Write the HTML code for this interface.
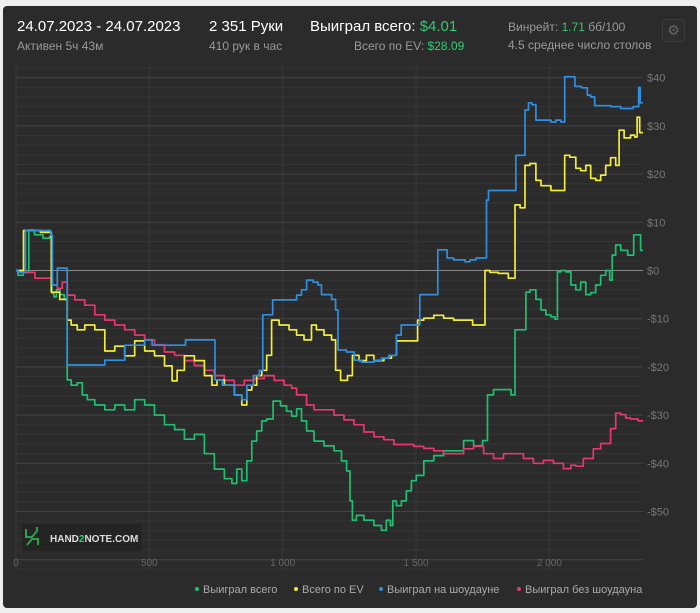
<!DOCTYPE html>
<html><head><meta charset="utf-8"><style>
body{margin:0;background:#efefef;font-family:"Liberation Sans",sans-serif;}
#panel{position:absolute;left:3px;top:6px;width:694px;height:602px;background:#2b2b2b;border-radius:4px;}
.t{position:absolute;white-space:nowrap;}
</style></head><body>
<div id="panel"></div>
<div class="t" style="left:17px;top:18px;font-size:15px;color:#fff;">24.07.2023 - 24.07.2023</div>
<div class="t" style="left:17px;top:39px;font-size:12px;color:#999;">Активен 5ч 43м</div>
<div class="t" style="left:209px;top:18px;font-size:15px;color:#fff;">2 351 Руки</div>
<div class="t" style="left:209px;top:39px;font-size:12px;color:#999;">410 рук в час</div>
<div class="t" style="left:310px;top:18px;font-size:15px;color:#fff;">Выиграл всего: <span style="color:#2ecc71">$4.01</span></div>
<div class="t" style="left:354px;top:39px;font-size:12px;color:#999;">Всего по EV: <span style="color:#2ecc71">$28.09</span></div>
<div class="t" style="left:508px;top:20px;font-size:12px;color:#999;">Винрейт: <span style="color:#2ecc71">1.71</span> бб/100</div>
<div class="t" style="left:508px;top:38px;font-size:12px;color:#999;">4.5 среднее число столов</div>
<div style="position:absolute;left:662px;top:19px;width:21px;height:21px;border:1px solid #3a3a3a;border-radius:3px;background:#2e2e2e;color:#666;font-size:14px;text-align:center;line-height:21px;">⚙</div>
<svg id="chart" width="700" height="613" style="position:absolute;left:0;top:0"></svg>
<script>
const gH=[0,15,40,56,82,120,131,138,146,157,172,190,194,220,239,258,277,314,352,389,426,464,501,538,576,613,650,688,725,763,800,819,837,856,875,893,912,931,949,979,1005,1024,1043,1061,1080,1099,1136,1174,1211,1230,1249,1256,1267,1286,1323,1361,1379,1398,1409,1417,1436,1454,1473,1492,1510,1548,1585,1622,1660,1697,1735,1764,1772,1809,1847,1865,1877,1910,1914,1940,1959,1978,1996,2015,2026,2034,2052,2071,2090,2108,2127,2146,2164,2183,2202,2220,2232,2239,2258,2277,2288,2299,2333,2351];
const gV=[0,-1,-0.4,8.4,7.4,6.7,7.1,-4.7,-5.5,-4,-5,-6,-22.7,-23.8,-23.3,-25.8,-26.8,-27.9,-28.9,-27.9,-28.9,-26.8,-27.9,-30,-32,-33,-35,-34,-38,-41.2,-43.2,-44.2,-41.2,-43.6,-39.5,-35.4,-33.3,-31.2,-30.8,-27.1,-28.1,-29.2,-30.2,-28.7,-31.2,-33.3,-35.4,-36.4,-37.4,-39.5,-41.6,-47.8,-51.8,-50.8,-51.8,-52.9,-53.9,-51.8,-52.9,-47.8,-48.8,-47.8,-45.7,-43.6,-42.5,-39.5,-38.4,-37.4,-37.4,-35.3,-36.4,-35.3,-25.8,-24.7,-24.7,-25.8,-12.3,-12.3,-4.5,-4,-6,-8.2,-9.2,-9.6,-10.1,-0.3,0,-0.3,-3,-4,-2.4,-5,-4.6,-3,-1,0,-2,3.2,5.3,4.2,4.2,3.2,7.4,4.2];
const bH=[0,15,56,127,135,138,153,157,190,194,314,352,464,501,520,613,658,744,748,800,837,856,875,905,920,931,957,968,1005,1043,1061,1080,1099,1129,1136,1155,1174,1193,1204,1211,1267,1271,1323,1361,1379,1417,1435,1454,1510,1518,1548,1578,1585,1611,1622,1660,1678,1690,1715,1735,1764,1764,1779,1809,1872,1877,1903,1914,1929,1940,1959,1996,2015,2034,2052,2063,2090,2101,2138,2146,2164,2176,2202,2258,2277,2295,2333,2337,2344,2351];
const bV=[0,-0.4,8.3,8.3,7.3,-3,-3,0.5,0.5,-19.6,-19.6,-18.6,-15.5,-14.4,-15.5,-15.5,-14.4,-14.4,-22.7,-23.8,-25.8,-26.8,-23.8,-21.8,-20.7,-9.2,-9.2,-6.1,-6.1,-6.1,-5.1,-4,-2,-2.4,-3,-5,-5,-6,-8.2,-16.5,-16.9,-18.6,-19,-18.6,-18.2,-17.6,-13.4,-11.3,-11.3,-5,-5,-5,4.3,4.3,2.6,2.2,2.2,1.8,2.2,2.6,2.6,14.6,16.6,16.6,16.6,23.9,23.9,33.3,34.8,34.4,31.2,31.2,30.8,31.2,30.8,40.2,40.2,38.2,37.9,36.4,36,34.2,34.2,34,33.6,33.6,34,38,34.8,34.8];
const yH=[0,56,127,138,190,194,220,239,277,314,352,389,426,464,501,538,576,595,613,650,688,725,744,763,800,837,856,875,893,912,931,949,968,1005,1043,1061,1099,1117,1136,1174,1193,1204,1230,1256,1267,1305,1323,1361,1398,1417,1436,1473,1502,1510,1548,1585,1622,1660,1697,1727,1753,1764,1790,1827,1865,1877,1903,1914,1940,1959,1978,1996,2015,2034,2052,2063,2090,2108,2127,2146,2164,2183,2202,2220,2239,2258,2265,2295,2314,2325,2333,2344,2351];
const yV=[0,8.3,7.9,-4.5,-6,-10.3,-11.3,-12.3,-11.3,-12.3,-16.7,-15.7,-17.7,-14.6,-16.7,-17.7,-19.8,-22.9,-20.7,-17.7,-18.7,-21.8,-23.8,-22.7,-23.8,-25.8,-27.9,-24.8,-23.8,-21.8,-20.7,-17.6,-10.3,-11.3,-12.3,-13.4,-14.4,-11.3,-12.3,-13.4,-14.4,-20.7,-22.8,-21.8,-17.6,-18.7,-17.6,-18.7,-18.2,-17.6,-14.6,-14.6,-14.6,-10.3,-9.9,-9.3,-9.9,-10.3,-10.3,-11.3,-11.3,0,-0.4,-0.6,-1.6,13.6,13,21.8,22.2,18.7,17.6,17.6,16.6,16.6,16.6,23.9,23.5,21.2,20.7,21.8,19.1,18.7,19.8,21.8,23.4,21.8,29.1,27.5,28.1,27.7,31.8,28.6,28.6];
const rH=[0,52,90,127,146,164,183,202,239,277,314,352,389,426,464,501,538,576,613,650,688,725,763,800,837,875,912,949,987,1024,1043,1061,1080,1099,1136,1174,1211,1249,1286,1323,1361,1398,1436,1473,1510,1548,1585,1622,1660,1697,1735,1772,1809,1847,1884,1921,1959,1996,2034,2071,2090,2108,2146,2183,2202,2220,2239,2258,2277,2295,2314,2351];
const rV=[0,-0.4,-1.6,-1.6,-3,-3.7,-2.4,-5.1,-6.1,-7.2,-9.2,-10.3,-11.3,-12.3,-13.4,-14.4,-15.4,-16.9,-17.6,-18.7,-19.7,-20.7,-21.8,-22.8,-23.8,-22.8,-22.4,-21.8,-22.8,-23.8,-24.4,-25.8,-25.8,-27.9,-28.9,-28.9,-30,-31,-32,-33.5,-34.5,-35.1,-36.1,-36.1,-36.5,-36.9,-37.4,-38,-38,-37,-36.5,-38,-39,-38,-38,-39,-40,-39.4,-40,-41.1,-40.4,-40.6,-39,-37,-35.9,-35.9,-32.8,-29.6,-29.9,-30.6,-30.8,-31.2];
const xTicks=[0,500,1000,1500,2000];
const xTickLabels=["0","500","1 000","1 500","2 000"];
const yTicks=[40,30,20,10,0,-10,-20,-30,-40,-50];
const yTickLabels=["$40","$30","$20","$10","$0","-$10","-$20","-$30","-$40","-$50"];
const legendNames=["Выиграл всего","Всего по EV","Выиграл на шоудауне","Выиграл без шоудауна"];

const L=16,R=643,T=67,B=570,maxH=2351;
const xs=h=>L+h*(R-L)/maxH;
const ys=v=>270.5-v*4.82;
const svg=document.getElementById('chart');
const NS='http://www.w3.org/2000/svg';
function mk(tag,a){const e=document.createElementNS(NS,tag);for(const k in a)e.setAttribute(k,a[k]);svg.appendChild(e);return e;}
for(let v=-62;v<=42;v+=2){const y=ys(v);if(y<T||y>B)continue;const g=mk('line',{x1:L,x2:R,y1:y,y2:y,stroke:v%10===0?'#444':'#353535','stroke-width':1});

}
xTicks.forEach((h,i)=>{const x=xs(h);const g=mk('line',{x1:x,x2:x,y1:T,y2:B,stroke:'#383838'});


const t=mk('text',{x:x,y:566,fill:'#666','font-size':10,'text-anchor':'middle','font-family':'Liberation Sans, sans-serif'});t.textContent=xTickLabels[i];

});
yTicks.forEach((v,i)=>{const t=mk('text',{x:647,y:ys(v)+4,fill:'#777','font-size':11,'font-family':'Liberation Sans, sans-serif'});t.textContent=yTickLabels[i];

});
const z=mk('line',{x1:L,x2:R,y1:ys(0),y2:ys(0),stroke:'#888','stroke-width':1});


const lb=mk('rect',{x:22,y:524,width:120,height:27,fill:'#242424'});


const lp=mk('path',{d:'M26 529v8h6l5 -6v-4M38 545v-6h-6l-5 6',stroke:'#2e9e4a','stroke-width':2,fill:'none'});


const lt=mk('text',{x:50,y:542,fill:'#ddd','font-size':10,'font-weight':'bold','font-family':'Liberation Sans, sans-serif'});lt.innerHTML='HAND<tspan fill="#2ecc71">2</tspan>NOTE.COM';


const series=[[gH,gV,'#1fbf72','series-won-total'],[rH,rV,'#e8366f','series-won-non-showdown'],[yH,yV,'#f2ec3a','series-ev-total'],[bH,bV,'#2f8fe0','series-won-showdown']];
series.forEach(s=>{let d='M'+xs(s[0][0]).toFixed(1)+' '+ys(s[1][0]).toFixed(1);
for(let i=1;i<s[0].length;i++){const x=xs(s[0][i]),y=ys(s[1][i]),px=xs(s[0][i-1]);
const mid=(px+x)/2;d+='H'+mid.toFixed(1)+'V'+y.toFixed(1)+'H'+x.toFixed(1);}
const p=mk('path',{d:d,stroke:s[2],'stroke-width':1.7,fill:'none','stroke-linejoin':'round'});

});
const lx=[197,296,381,519],lc=['#1fbf72','#f2ec3a','#2f8fe0','#e8366f'];
legendNames.forEach((n,i)=>{const c=mk('circle',{cx:lx[i],cy:589,r:2,fill:lc[i]});


const t=mk('text',{x:lx[i]+6,y:593,fill:'#aaa','font-size':11,'font-family':'Liberation Sans, sans-serif'});t.textContent=n;

});
</script>
</body></html>
